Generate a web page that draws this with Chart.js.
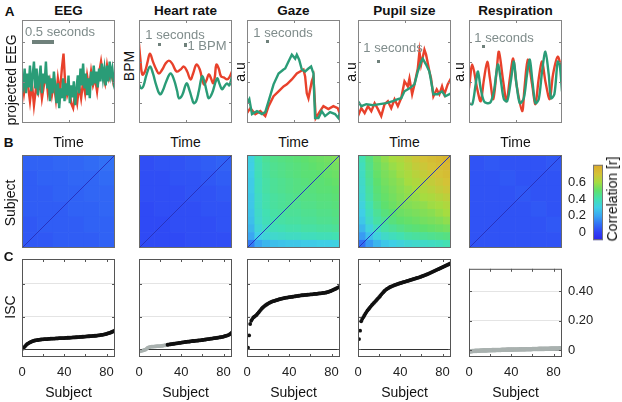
<!DOCTYPE html>
<html>
<head>
<meta charset="utf-8">
<script src="https://cdn.jsdelivr.net/npm/chart.js@4.4.1/dist/chart.umd.min.js"></script>
<style>
  body { margin: 0; width: 622px; height: 402px; background: #fff; position: relative; overflow: hidden;
         font-family: 'Liberation Sans', Arial, sans-serif; color: #111; }
  canvas { position: absolute; }
  .t { position: absolute; transform: translate(-50%, -50%); white-space: nowrap; font-size: 14px; line-height: 1; }
  .b { font-weight: bold; font-size: 13.5px; }
  .r { transform: translate(-50%, -50%) rotate(-90deg); }
  .g { color: #7f8c8b; font-size: 13px; }
  .sb { position: absolute; background: #6f817b; }
</style>
</head>
<body>
<script>
// ---- data ----
const panelTitles = ['EEG', 'Heart rate', 'Gaze', 'Pupil size', 'Respiration'];
const traceYLabels = ['projected EEG', 'BPM', 'a.u', 'a.u', 'a.u'];

// row A: example traces, [time, value] (arbitrary units)
const eegGreen = [[0,45],[4,38],[8,55],[12,30],[16,50],[20,36],[24,58],[28,32],[32,48],[36,62],[40,35],[44,55],[48,28],[52,45],[56,58],[60,30],[64,50],[68,40],[72,62],[76,35],[80,48],[84,22],[88,45],[92,30],[96,52],[100,38],[104,20],[108,40],[112,15],[116,35],[120,25],[124,45],[128,22],[132,40],[136,28],[140,48],[144,20],[148,38],[152,26],[156,42],[160,18],[164,35],[168,48],[172,30],[176,55],[180,38],[184,60],[188,35],[192,50],[196,28],[200,45],[204,25],[208,52],[212,38],[216,58],[220,40],[224,52],[228,36],[232,55],[236,42],[240,60],[244,45],[248,55],[252,38],[256,58],[260,42],[264,62],[268,48],[272,55],[276,42],[280,50]];
const eegRed = [[0,48],[6,30],[12,45],[18,38],[24,22],[30,40],[36,18],[42,35],[48,30],[54,44],[60,25],[66,38],[72,50],[78,30],[84,42],[90,28],[96,40],[102,24],[108,45],[114,30],[120,55],[125,70],[130,40],[136,28],[142,35],[148,20],[154,15],[160,30],[166,20],[172,38],[178,25],[184,42],[190,30],[196,48],[202,35],[208,52],[214,38],[220,45],[226,32],[232,50],[238,62],[244,48],[250,40],[256,58],[262,45],[268,52],[274,42],[280,50]];
const hrGreen = [[0,39],[7,35],[14,38],[22,48],[33,57],[42,50],[52,38],[63,29],[72,33],[82,42],[95,50],[105,44],[115,32],[120,25],[130,28],[143,40],[152,33],[160,24],[165,20],[172,22],[180,32],[190,47],[198,40],[205,30],[210,25],[220,30],[235,45],[242,40],[250,34],[257,37],[265,40],[272,38],[280,47]];
const hrRed = [[0,80],[4,65],[10,49],[18,52],[26,62],[33,70],[42,62],[52,54],[60,50],[70,54],[80,60],[90,63],[100,60],[113,52],[125,54],[135,57],[145,52],[155,44],[163,50],[173,59],[183,54],[195,39],[203,43],[210,49],[217,45],[223,40],[228,46],[233,59],[240,55],[247,47],[255,46],[265,44],[272,46],[280,52]];
const gazeGreen = [[0,20],[7,24],[15,9],[30,12],[45,9],[55,11],[65,22],[80,39],[95,50],[110,54],[115,55],[125,62],[135,69],[145,65],[150,69],[157,64],[165,54],[175,52],[185,55],[193,57],[200,50],[205,5],[215,5],[225,12],[235,7],[250,11],[265,9],[275,5],[280,11]];
const gazeRed = [[0,10],[10,15],[25,9],[40,12],[55,7],[65,17],[80,27],[95,32],[110,37],[120,39],[135,44],[150,50],[160,52],[170,54],[175,47],[180,30],[185,25],[195,42],[200,47],[207,5],[220,12],[230,17],[245,14],[260,17],[273,15],[280,9]];
const pupilGreen = [[0,22],[10,17],[25,19],[45,18],[65,19],[85,20],[105,22],[120,24],[130,25],[140,32],[155,35],[170,39],[180,52],[190,62],[195,65],[205,59],[215,52],[227,29],[240,29],[253,32],[263,27],[280,30]];
const pupilRed = [[0,7],[10,15],[20,10],[30,17],[40,12],[50,20],[60,14],[70,7],[80,19],[90,22],[100,15],[110,24],[120,17],[130,25],[140,42],[150,37],[155,45],[163,29],[170,39],[180,55],[185,72],[190,59],[200,74],[205,69],[215,52],[220,45],[227,27],[237,34],[245,29],[253,37],[260,29],[270,39],[280,45]];
const respGreen = [[0,20],[10,19],[20,39],[27,52],[35,35],[45,22],[55,20],[65,21],[75,32],[87,59],[95,45],[105,24],[115,22],[127,45],[135,62],[143,39],[153,20],[165,25],[175,50],[183,64],[191,42],[200,20],[210,24],[220,52],[230,72],[240,49],[247,25],[257,29],[267,62],[273,59],[280,32]];
const respRed = [[0,35],[10,59],[25,34],[35,22],[45,44],[55,62],[63,45],[73,24],[83,52],[90,72],[103,42],[113,22],[123,45],[133,65],[143,39],[160,12],[167,35],[177,64],[190,39],[200,19],[210,45],[220,62],[230,42],[243,24],[253,49],[267,67],[280,52]];

// row B: subject x subject correlation (coarse blocks, bottom row first)
const eegMatrix = [
  [0.05,0.05,0.06,0.06,0.06,0.07],
  [0.05,0.06,0.06,0.06,0.07,0.07],
  [0.06,0.06,0.06,0.07,0.07,0.08],
  [0.06,0.06,0.07,0.07,0.08,0.08],
  [0.06,0.07,0.07,0.08,0.08,0.09],
  [0.07,0.07,0.08,0.08,0.09,0.10]];
const hrMatrix = [
  [0.02,0.02,0.02,0.03,0.03,0.03],
  [0.02,0.02,0.03,0.03,0.03,0.04],
  [0.02,0.03,0.03,0.03,0.04,0.04],
  [0.03,0.03,0.03,0.04,0.04,0.05],
  [0.03,0.03,0.04,0.04,0.05,0.06],
  [0.03,0.04,0.04,0.05,0.06,0.07]];
const gazeMatrix = [
  [0.12,0.20,0.24,0.26,0.27,0.28,0.28,0.29,0.29,0.30,0.30,0.31],
  [0.20,0.30,0.33,0.35,0.36,0.37,0.37,0.38,0.38,0.39,0.39,0.40],
  [0.24,0.33,0.37,0.39,0.40,0.41,0.41,0.42,0.42,0.43,0.43,0.44],
  [0.26,0.35,0.39,0.41,0.42,0.43,0.43,0.44,0.44,0.45,0.45,0.46],
  [0.27,0.36,0.40,0.42,0.43,0.44,0.44,0.45,0.45,0.46,0.46,0.47],
  [0.28,0.37,0.41,0.43,0.44,0.45,0.45,0.46,0.46,0.47,0.47,0.48],
  [0.28,0.37,0.41,0.43,0.44,0.45,0.46,0.47,0.47,0.48,0.48,0.49],
  [0.29,0.38,0.42,0.44,0.45,0.46,0.47,0.47,0.48,0.49,0.49,0.50],
  [0.29,0.38,0.42,0.44,0.45,0.46,0.47,0.48,0.49,0.49,0.50,0.51],
  [0.30,0.39,0.43,0.45,0.46,0.47,0.48,0.49,0.49,0.50,0.51,0.52],
  [0.30,0.39,0.43,0.45,0.46,0.47,0.48,0.49,0.50,0.51,0.52,0.53],
  [0.31,0.40,0.44,0.46,0.47,0.48,0.49,0.50,0.51,0.52,0.53,0.55]];
const pupilMatrix = [
  [0.10,0.18,0.24,0.28,0.30,0.32,0.34,0.35,0.36,0.37,0.38,0.40],
  [0.18,0.26,0.32,0.36,0.38,0.40,0.42,0.43,0.44,0.45,0.46,0.47],
  [0.24,0.32,0.38,0.42,0.44,0.46,0.48,0.49,0.50,0.51,0.52,0.53],
  [0.28,0.36,0.42,0.45,0.48,0.50,0.51,0.52,0.53,0.54,0.55,0.57],
  [0.30,0.38,0.44,0.48,0.50,0.52,0.53,0.54,0.55,0.56,0.58,0.60],
  [0.32,0.40,0.46,0.50,0.52,0.54,0.55,0.56,0.57,0.59,0.60,0.62],
  [0.34,0.42,0.48,0.51,0.53,0.55,0.57,0.58,0.60,0.61,0.63,0.65],
  [0.35,0.43,0.49,0.52,0.54,0.56,0.58,0.60,0.62,0.64,0.66,0.68],
  [0.36,0.44,0.50,0.53,0.55,0.57,0.60,0.62,0.64,0.66,0.68,0.70],
  [0.37,0.45,0.51,0.54,0.56,0.59,0.61,0.64,0.66,0.68,0.70,0.72],
  [0.38,0.46,0.52,0.55,0.58,0.60,0.63,0.66,0.68,0.70,0.72,0.74],
  [0.40,0.47,0.53,0.57,0.60,0.62,0.65,0.68,0.70,0.72,0.74,0.76]];
const respMatrix = [
  [0.04,0.04,0.04,0.04,0.04,0.04],
  [0.04,0.04,0.04,0.04,0.04,0.05],
  [0.04,0.04,0.04,0.04,0.05,0.04],
  [0.04,0.04,0.04,0.05,0.04,0.04],
  [0.04,0.04,0.05,0.04,0.04,0.04],
  [0.04,0.05,0.04,0.04,0.04,0.05]];

// colour bar
const cbMin = -0.09, cbMax = 0.81;
const cbTicks = [0, 0.2, 0.4, 0.6];

// row C: sorted ISC per subject (1..88)
const eegIsc = [0.005,0.012,0.02,0.027,0.033,0.037,0.041,0.044,0.047,0.05,
  0.052,0.054,0.055,0.056,0.057,0.058,0.059,0.060,0.061,0.061,
  0.062,0.062,0.063,0.063,0.064,0.064,0.065,0.065,0.066,0.066,
  0.066,0.067,0.067,0.067,0.068,0.068,0.068,0.069,0.069,0.069,
  0.070,0.070,0.071,0.071,0.071,0.072,0.072,0.073,0.073,0.073,
  0.074,0.074,0.075,0.075,0.076,0.076,0.077,0.077,0.078,0.078,
  0.079,0.079,0.080,0.080,0.081,0.081,0.082,0.082,0.083,0.083,
  0.084,0.085,0.086,0.087,0.088,0.089,0.090,0.091,0.093,0.095,
  0.097,0.099,0.101,0.103,0.106,0.109,0.112,0.116];
const hrIsc = [-0.012,-0.01,-0.008,-0.006,-0.004,-0.002,0.002,0.008,0.012,0.014,
  0.015,0.016,0.017,0.017,0.018,0.018,0.019,0.019,0.020,0.020,
  0.021,0.022,0.023,0.024,0.025,0.026,0.028,0.029,0.030,0.031,
  0.032,0.033,0.034,0.035,0.036,0.037,0.038,0.039,0.040,0.041,
  0.042,0.043,0.044,0.045,0.046,0.047,0.047,0.048,0.049,0.050,
  0.051,0.051,0.052,0.053,0.053,0.054,0.055,0.055,0.056,0.057,
  0.058,0.059,0.060,0.061,0.062,0.063,0.064,0.065,0.066,0.067,
  0.068,0.069,0.070,0.071,0.072,0.073,0.074,0.075,0.076,0.078,
  0.080,0.082,0.084,0.086,0.089,0.093,0.098,0.104];
const gazeIsc = [0.01,0.085,0.155,0.175,0.185,0.195,0.200,0.205,0.210,0.218,
  0.226,0.234,0.242,0.250,0.256,0.262,0.267,0.272,0.276,0.280,
  0.284,0.287,0.290,0.293,0.295,0.297,0.299,0.301,0.303,0.305,
  0.307,0.309,0.310,0.312,0.313,0.315,0.316,0.317,0.318,0.319,
  0.320,0.321,0.322,0.323,0.324,0.325,0.326,0.327,0.328,0.329,
  0.330,0.331,0.331,0.332,0.333,0.333,0.334,0.335,0.335,0.336,
  0.337,0.337,0.338,0.339,0.339,0.340,0.341,0.342,0.342,0.343,
  0.344,0.345,0.346,0.347,0.348,0.350,0.352,0.354,0.356,0.359,
  0.362,0.365,0.368,0.371,0.375,0.378,0.381,0.384];
const pupilIsc = [0.063,0.114,0.172,0.185,0.196,0.207,0.218,0.228,0.238,0.246,
  0.254,0.262,0.270,0.277,0.284,0.291,0.298,0.305,0.312,0.319,
  0.327,0.335,0.343,0.350,0.357,0.363,0.368,0.372,0.376,0.380,
  0.383,0.386,0.389,0.391,0.394,0.396,0.399,0.401,0.403,0.405,
  0.407,0.409,0.411,0.413,0.415,0.417,0.419,0.421,0.423,0.425,
  0.427,0.429,0.431,0.433,0.435,0.437,0.439,0.441,0.443,0.446,
  0.448,0.451,0.453,0.456,0.458,0.461,0.464,0.467,0.470,0.473,
  0.476,0.479,0.482,0.485,0.488,0.491,0.494,0.497,0.500,0.503,
  0.506,0.509,0.512,0.515,0.518,0.521,0.524,0.527];
const respIsc = [-0.009,-0.008,-0.007,-0.006,-0.006,-0.005,-0.005,-0.004,-0.004,-0.004,
  -0.003,-0.003,-0.003,-0.002,-0.002,-0.002,-0.002,-0.001,-0.001,-0.001,
  -0.001,0.000,0.000,0.000,0.000,0.001,0.001,0.001,0.001,0.001,
  0.002,0.002,0.002,0.002,0.002,0.003,0.003,0.003,0.003,0.003,
  0.003,0.004,0.004,0.004,0.004,0.004,0.004,0.005,0.005,0.005,
  0.005,0.005,0.005,0.006,0.006,0.006,0.006,0.006,0.006,0.007,
  0.007,0.007,0.007,0.007,0.007,0.008,0.008,0.008,0.008,0.008,
  0.008,0.009,0.009,0.009,0.009,0.009,0.010,0.010,0.010,0.010,
  0.010,0.011,0.011,0.011,0.011,0.012,0.012,0.013];
// number of leading (non-significant) subjects drawn in grey
const nonSignificant = [0, 26, 0, 0, 88];
const iscTicks = [0, 0.2, 0.4];
const subjectTicks = [0, 20, 40, 60, 80];

// ---- layout ----
const boxX = [[22,115],[139,232],[247,340],[358,451],[469,562]];
const rowA = [20,123], rowB = [155,248], rowC = [255,357];
const RED = '#e8412b', GREEN = '#2a9c77', GREY = '#a9b1af', BLACK = '#111';
const traceTension = [0, 0.4, 0, 0, 0.3];

// colour map (value -> colour), roughly the figure's bar
const cmapStops = [-0.09, 0.0, 0.1, 0.2, 0.3, 0.4, 0.5, 0.6, 0.7, 0.81];
const cmapColors = ['#2b26ea','#2f40f5','#3170f5','#3aa6f2','#3fcfe6','#42e0b2','#5ee06e','#a6dc40','#d4c236','#dca82a'];

function hexRgb(h) { return [1,3,5].map(i => parseInt(h.slice(i, i+2), 16)); }
function cmap(v) {
  if (v <= cmapStops[0]) return cmapColors[0];
  for (let i = 1; i < cmapStops.length; i++) {
    if (v <= cmapStops[i]) {
      const f = (v - cmapStops[i-1]) / (cmapStops[i] - cmapStops[i-1]);
      const a = hexRgb(cmapColors[i-1]), b = hexRgb(cmapColors[i]);
      return 'rgb(' + a.map((c, k) => Math.round(c + (b[k] - c) * f)).join(',') + ')';
    }
  }
  return cmapColors[cmapColors.length - 1];
}

Chart.defaults.font.family = "'Liberation Sans', Arial, sans-serif";
Chart.defaults.animation = false;
Chart.defaults.responsive = false;
Chart.defaults.devicePixelRatio = 1;
Chart.defaults.plugins.legend.display = false;
Chart.defaults.plugins.tooltip.enabled = false;

// box round the plot area with small inward ticks (MATLAB style)
const frame = {
  id: 'frame',
  afterDatasetsDraw(chart, args, opts) {
    const { ctx, chartArea: a } = chart;
    ctx.save();
    ctx.strokeStyle = opts.color || '#666';
    ctx.lineWidth = 1;
    ctx.strokeRect(a.left + 0.5, a.top + 0.5, a.right - a.left - 1, a.bottom - a.top - 1);
    if (opts.ticks) {
      const xs = chart.scales.x, ys = chart.scales.y;
      ctx.beginPath();
      xs.ticks.forEach(t => {
        const p = Math.round(xs.getPixelForValue(t.value)) + 0.5;
        ctx.moveTo(p, a.bottom); ctx.lineTo(p, a.bottom - 3);
        ctx.moveTo(p, a.top); ctx.lineTo(p, a.top + 3);
      });
      ys.ticks.forEach(t => {
        const p = Math.round(ys.getPixelForValue(t.value)) + 0.5;
        ctx.moveTo(a.left, p); ctx.lineTo(a.left + 3, p);
        ctx.moveTo(a.right, p); ctx.lineTo(a.right - 3, p);
      });
      ctx.stroke();
    }
    ctx.restore();
  }
};

function addCanvas(x, y, w, h) {
  const c = document.createElement('canvas');
  c.width = w; c.height = h;
  c.style.left = x + 'px'; c.style.top = y + 'px';
  document.body.appendChild(c);
  return c;
}
function addText(txt, x, y, cls) {
  const d = document.createElement('div');
  d.className = 't ' + (cls || '');
  d.textContent = txt;
  d.style.left = x + 'px'; d.style.top = y + 'px';
  document.body.appendChild(d);
}
function addBar(x, y, w, h) {
  const d = document.createElement('div');
  d.className = 'sb';
  Object.assign(d.style, { left: x + 'px', top: y + 'px', width: w + 'px', height: h + 'px' });
  document.body.appendChild(d);
}
const pts = arr => arr.map(p => ({ x: p[0], y: p[1] }));

function traceChart(i, green, red) {
  const [l, r] = boxX[i];
  const c = addCanvas(l, rowA[0], r - l, rowA[1] - rowA[0]);
  const line = { borderWidth: 2.4, pointRadius: 0, tension: traceTension[i] };
  new Chart(c, {
    type: 'line',
    data: { datasets: [
      { ...line, data: pts(green), borderColor: GREEN },
      { ...line, data: pts(red), borderColor: RED }
    ] },
    options: {
      layout: { padding: 0 },
      scales: {
        x: { type: 'linear', display: false, min: 0, max: 280,
             afterBuildTicks: s => { s.ticks = [{ value: 140 }]; } },
        y: { display: false, min: 0, max: 104,
             afterBuildTicks: s => { s.ticks = [20, 41, 62, 82].map(v => ({ value: v })); } }
      },
      plugins: { frame: { ticks: true, color: '#858585' } }
    },
    plugins: [frame]
  });
}

function heatChart(i, matrix) {
  const [l, r] = boxX[i];
  const n = matrix.length;
  const c = addCanvas(l, rowB[0], r - l, rowB[1] - rowB[0]);
  const datasets = matrix.map(row => ({
    type: 'bar', data: row.map(() => 1), backgroundColor: row.map(cmap), grouped: false,
    borderWidth: 0, barPercentage: 1, categoryPercentage: 1, xAxisID: 'x', yAxisID: 'y'
  }));
  // the (excluded) diagonal
  datasets.unshift({ type: 'line', data: [{ x: 0, y: 0 }, { x: 1, y: 1 }], borderColor: '#2733c0',
    borderWidth: 1, pointRadius: 0, xAxisID: 'xd', yAxisID: 'yd' });
  new Chart(c, {
    type: 'bar',
    data: { labels: matrix[0].map((_, k) => k), datasets },
    options: {
      layout: { padding: 0 },
      scales: {
        x: { display: false },
        y: { stacked: true, display: false, min: 0, max: n },
        xd: { type: 'linear', display: false, offset: false, min: 0, max: 1 },
        yd: { type: 'linear', display: false, offset: false, min: 0, max: 1 }
      },
      plugins: { frame: { ticks: false, color: '#6a6a6a' } }
    },
    plugins: [frame]
  });
}

function iscChart(i, values, grey) {
  const [l, r] = boxX[i];
  const last = i === 4;
  const padL = 12, padR = last ? 0 : 12, axisW = last ? 50 : 0, bottomH = 28;
  const c = addCanvas(l - padL, rowC[0], (r - l) + padL + padR + axisW, (rowC[1] - rowC[0]) + bottomH);
  new Chart(c, {
    type: 'scatter',
    data: { datasets: [{
      data: values.map((v, k) => ({ x: k + 1, y: v })),
      pointRadius: last ? 2.3 : 1.9, pointBorderWidth: 0,
      pointBackgroundColor: ctx => ctx.dataIndex < grey ? GREY : BLACK
    }] },
    options: {
      layout: { padding: { left: padL, right: padR, top: 0, bottom: 0 } },
      scales: {
        x: { type: 'linear', min: 0, max: 88,
             grid: { display: false, drawTicks: false }, border: { display: false },
             afterBuildTicks: s => { s.ticks = subjectTicks.map(v => ({ value: v })); },
             ticks: { padding: 8, color: '#222', font: { size: 13 }, maxRotation: 0, autoSkip: false,
                      callback: v => (v % 40 === 0 ? String(v) : '') },
             afterFit: s => { s.height = bottomH; } },
        y: { position: last ? 'right' : 'left', min: -0.047, max: 0.553,
             grid: { drawTicks: false, color: ctx => (ctx.tick && ctx.tick.value === 0 ? '#333' : '#e4e4e4') },
             border: { display: false },
             afterBuildTicks: s => { s.ticks = iscTicks.map(v => ({ value: v })); },
             ticks: { display: last, padding: 6, color: '#222', font: { size: 13 },
                      callback: v => (v === 0 ? '0' : v.toFixed(2)) },
             afterFit: s => { s.width = axisW; } }
      },
      plugins: { frame: { ticks: true, color: '#555' } }
    },
    plugins: [frame]
  });
}

function colorBar() {
  const c = addCanvas(560, 150, 45, 105);
  new Chart(c, {
    type: 'bar',
    data: { labels: ['r'], datasets: [{
      data: [[cbMin, cbMax]], barPercentage: 1, categoryPercentage: 1, borderWidth: 0,
      backgroundColor: ctx => {
        const a = ctx.chart.chartArea;
        if (!a) return cmapColors[0];
        const g = ctx.chart.ctx.createLinearGradient(0, a.bottom, 0, a.top);
        cmapStops.forEach((s, k) => g.addColorStop((s - cbMin) / (cbMax - cbMin), cmapColors[k]));
        return g;
      }
    }] },
    options: {
      layout: { padding: { left: 0, right: 2, top: 7, bottom: 7 } },
      scales: {
        x: { display: false },
        y: { min: cbMin, max: cbMax, position: 'left',
             grid: { display: false, drawTicks: false }, border: { display: false },
             afterBuildTicks: s => { s.ticks = cbTicks.map(v => ({ value: v })); },
             ticks: { padding: 7, color: '#222', font: { size: 13 }, callback: v => String(v) },
             afterFit: s => { s.width = 33; } }
      },
      plugins: { frame: { ticks: false, color: '#777' } }
    },
    plugins: [frame]
  });
}

traceChart(0, eegGreen, eegRed);
traceChart(1, hrGreen, hrRed);
traceChart(2, gazeGreen, gazeRed);
traceChart(3, pupilGreen, pupilRed);
traceChart(4, respGreen, respRed);
[eegMatrix, hrMatrix, gazeMatrix, pupilMatrix, respMatrix].forEach((m, i) => heatChart(i, m));
[eegIsc, hrIsc, gazeIsc, pupilIsc, respIsc].forEach((v, i) => iscChart(i, v, nonSignificant[i]));
colorBar();

// ---- text ----
addText('A', 9.5, 11.5, 'b');
addText('B', 8.5, 143, 'b');
addText('C', 8.5, 257, 'b');
boxX.forEach(([l, r], i) => {
  const cx = (l + r) / 2;
  addText(panelTitles[i], cx, 11, 'b');
  addText('Time', cx, 142);
  addText('Subject', cx, 392);
});
addText(traceYLabels[0], 10.5, 80, 'r');
addText(traceYLabels[1], 129, 66, 'r');
addText(traceYLabels[2], 240, 72, 'r');
addText(traceYLabels[3], 351, 72, 'r');
addText(traceYLabels[4], 459, 72, 'r');
addText('Subject', 10, 203, 'r');
addText('ISC', 10, 307, 'r');
addText('Correlation [r]', 611.5, 199, 'r');

// scale bars
addText('0.5 seconds', 60, 31, 'g');  addBar(32, 40, 22, 3.5);
addText('1 seconds', 175, 33.5, 'g'); addBar(158, 43, 3, 3);
addText('1 BPM', 207, 45, 'g');       addBar(184, 42.5, 2.5, 4);
addText('1 seconds', 283, 31.5, 'g'); addBar(266, 40, 3, 2.5);
addText('1 seconds', 393, 46.5, 'g'); addBar(377, 59.5, 3, 3);
addText('1 seconds', 504, 36.5, 'g'); addBar(482, 45, 3, 3);
</script>
</body>
</html>
